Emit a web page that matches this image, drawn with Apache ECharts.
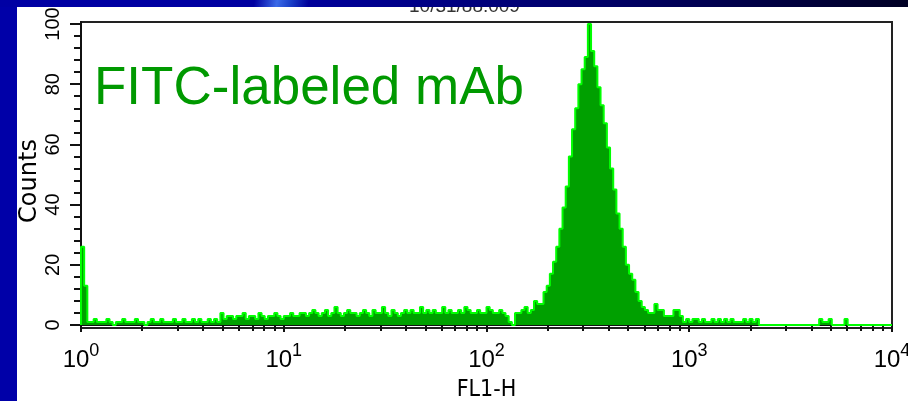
<!DOCTYPE html>
<html><head><meta charset="utf-8">
<script src="https://cdn.jsdelivr.net/npm/echarts@6/dist/echarts.min.js"></script>
<style>
html,body{margin:0;padding:0;width:908px;height:401px;overflow:hidden;background:#0000a8;}
#band{position:absolute;left:0;top:0;width:908px;height:7px;background:linear-gradient(100deg,#0000a4 0%,#0000a0 28%,#3a6ae8 30.5%,#1a40c8 32%,#00009a 34%,#000088 45%,#000060 70%,#000024 100%);}
#chart{position:absolute;left:17px;top:7px;width:891px;height:394px;background:#fff;}
</style></head><body>
<div id="band"></div><div id="chart"></div>
<script>
// 256 log channels spanning 10^0 .. 10^4 (64 per decade)
const channelCount = 256;
const counts = [
  26,13,
  1,1,2,1,1,1,2,1,0,1, 1,2,1,1,1,2,1,1,0,1, 2,1,1,2,1,1,1,2,1,1, 2,1,1,2,1,2,1,1,2,1, 2,1,
  4,2,3,3,2,3,3,4,2,3, 3,2,4,3,2,3,3,4,3,2, 3,3,4,3,3,4,
  4,3,4,5,4,3,4,5,3,4, 6,4,3,4,5,4,4,3,4,5, 4,3,5,4,4,6,4,3,5,4, 3,4,5,4,5,4,4,6,4,5, 4,
  5,4,4,6,4,5,4,4,5,4, 6,5,4,4,5,4,4,6,5,4, 4,5,4,3,1,
  0,4,4,5,6,4,5,8,7,7, 11,13,17,21,26,32,39,46,56,65, 72,80,85,89,100,91,86,79,73,67,
  59,52,45,37,32,26,20,17,15,11, 8,6,5,4,4,7,5,5,3,3, 3,5,5,3,1,2,1,2,2,1,
  2,1,1,2,1,2,1,2,1,2, 1,1,1,2,1,2,1,2,
  0,0,0,0,0,0,0,0,0,0, 0,0,0,0,0,0,0,0,0,
  2,1,1,2, 0,0,0,0, 2,
  0,0,0,0,0,0,0,0,0,0, 0,0,0,0
];
const yMajorTicks = [0, 20, 40, 60, 80, 100];
const yMinorTicks = [0,4,8,12,16,20,24,28,32,36,40,44,48,52,56,60,64,68,72,76,80,84,88,92,96,100];
const decadeExponent = {1: '0', 10: '1', 100: '2', 1000: '3', 10000: '4'};
const xMinorTicks = [2,3,4,5,6,7,8,9, 20,30,40,50,60,70,80,90, 200,300,400,500,600,700,800,900, 2000,3000,4000,5000,6000,7000,8000,9000];
const titleText = '10/31/88.009';
const annotation = 'FITC-labeled mAb';
const xName = 'FL1-H';
const yName = 'Counts';

const seriesData = [[0, 0]];
counts.forEach((c, i) => seriesData.push([i, c]));
seriesData.push([channelCount, 0]);

const labelFont = "Liberation Sans, Arial, sans-serif";
const chart = echarts.init(document.getElementById('chart'), null, {renderer: 'canvas'});
chart.setOption({
  animation: false,
  backgroundColor: '#ffffff',
  title: {
    text: titleText, left: 392, top: -10, padding: 0,
    textStyle: {fontSize: 19, fontWeight: 'normal', color: '#333', fontFamily: labelFont}
  },
  grid: {left: 64, right: 16, top: 15, bottom: 73, outerBoundsMode: 'none', containLabel: false,
         show: true, borderColor: '#222', borderWidth: 2, backgroundColor: 'transparent'},
  xAxis: [
    {
      type: 'log', logBase: 10, min: 1, max: 10000, position: 'bottom',
      axisLine: {show: true, lineStyle: {color: '#111', width: 2}},
      axisTick: {show: true, length: 7, lineStyle: {color: '#111', width: 2}},
      splitLine: {show: false}, minorTick: {show: false},
      axisLabel: {
        margin: 14, color: '#000', hideOverlap: false,
        formatter: v => '{b|10}{s|' + decadeExponent[Math.round(v)] + '}',
        rich: {
          b: {fontSize: 24, fontFamily: labelFont, color: '#000'},
          s: {fontSize: 18, fontFamily: labelFont, color: '#000', padding: [0, 0, 19, 0]}
        }
      },
      name: xName, nameLocation: 'middle', nameGap: 51, nameMoveOverlap: false,
      nameTextStyle: {fontSize: 23, color: '#000', fontFamily: "Liberation Sans Narrow, Arial Narrow, DejaVu Sans Condensed, Liberation Sans, sans-serif"}
    },
    {
      type: 'value', min: 0, max: 4, position: 'bottom',
      axisLine: {show: false}, splitLine: {show: false}, axisLabel: {show: false},
      axisTick: {show: true, length: 6, customValues: xMinorTicks.map(Math.log10), lineStyle: {color: '#111', width: 2}}
    },
    {type: 'value', min: 0, max: channelCount, show: false}
  ],
  yAxis: [
    {
      type: 'value', min: -1, max: 100.66, position: 'left',
      axisLine: {show: true, lineStyle: {color: '#111', width: 2}},
      axisTick: {show: true, length: 11, customValues: yMajorTicks, lineStyle: {color: '#111', width: 2}},
      axisLabel: {customValues: yMajorTicks, rotate: 90, margin: 18, fontSize: 20, color: '#000', fontFamily: labelFont},
      splitLine: {show: false},
      name: yName, nameLocation: 'middle', nameGap: 39, nameMoveOverlap: false,
      nameTextStyle: {fontSize: 24, color: '#000', fontFamily: "DejaVu Sans, sans-serif", padding: [0, 12, 0, 0]}
    },
    {
      type: 'value', min: -1, max: 100.66, position: 'left',
      axisLine: {show: false}, splitLine: {show: false}, axisLabel: {show: false},
      axisTick: {show: true, length: 7, customValues: yMinorTicks, lineStyle: {color: '#111', width: 2}}
    }
  ],
  graphic: [{
    type: 'text', x: 77, y: 82, z: 10,
    style: {text: annotation, fontSize: 53, fontFamily: labelFont, fill: '#009900', verticalAlign: 'middle', align: 'left'}
  }],
  series: [{
    type: 'line', xAxisIndex: 2, yAxisIndex: 0, step: 'end', symbol: 'none',
    lineStyle: {color: '#00ff00', width: 2},
    areaStyle: {color: '#00a000', opacity: 1},
    data: seriesData
  }]
});
</script></body></html>
